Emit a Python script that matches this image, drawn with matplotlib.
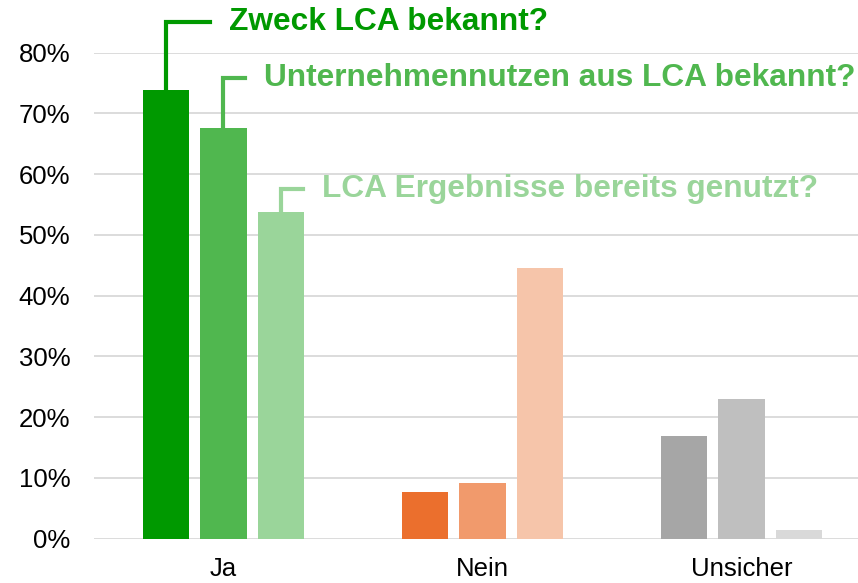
import matplotlib.pyplot as plt
import numpy as np

plt.rcParams['font.family'] = ['Liberation Sans', 'DejaVu Sans']

categories = ['Ja', 'Nein', 'Unsicher']
zweck = [0.739, 0.077, 0.169]
nutzen = [0.676, 0.092, 0.230]
genutzt = [0.538, 0.446, 0.015]
labels = ['Zweck LCA bekannt?', 'Unternehmennutzen aus LCA bekannt?',
          'LCA Ergebnisse bereits genutzt?']

greens = ['#009900', '#50B74F', '#9AD59A']
colors = [
    ['#009900', '#EB6F2D', '#A6A6A6'],
    ['#50B74F', '#F19A6C', '#BFBFBF'],
    ['#9AD59A', '#F6C5AA', '#D9D9D9'],
]

fig = plt.figure(figsize=(8.58, 5.83), dpi=100)
ax = fig.add_axes([94 / 858, (583 - 538.7) / 583, 1 - 94 / 858, (538.7 - 52.7) / 583])

x = np.arange(len(categories))
width = 0.178
step = 0.222
series = [zweck, nutzen, genutzt]
for i, vals in enumerate(series):
    ax.bar(x + (i - 1) * step, vals, width, color=colors[i], zorder=3)

# callouts from the "Ja" bars
tops = [0.851, 0.759, 0.576]
hends = [-0.052, 0.083, 0.307]
for i, vals in enumerate(series):
    bx = x[0] + (i - 1) * step
    ax.plot([bx, bx, hends[i]], [vals[0], tops[i], tops[i]], color=greens[i],
            lw=3, solid_joinstyle='miter', clip_on=False, zorder=4)
    ax.text(hends[i] + 0.073, tops[i], labels[i], color=greens[i], fontsize=22.8,
            fontweight='bold', va='center', ha='left', clip_on=False)

ax.set_ylim(0, 0.8)
ax.set_xlim(-0.5, 2.45)
ax.set_yticks(np.arange(0, 0.81, 0.1))
ax.set_yticklabels([f'{int(round(v * 100))}%' for v in np.arange(0, 0.81, 0.1)])
ax.set_xticks(x)
ax.set_xticklabels(categories)
ax.tick_params(axis='y', length=0, pad=17, labelsize=18.5, labelcolor='#000000')
ax.tick_params(axis='x', length=0, pad=13, labelsize=18.5, labelcolor='#000000')
ax.grid(axis='y', color='#D9D9D9', lw=1.3, zorder=0)
for s in ax.spines.values():
    s.set_visible(False)

fig.savefig('out.png', dpi=100)
